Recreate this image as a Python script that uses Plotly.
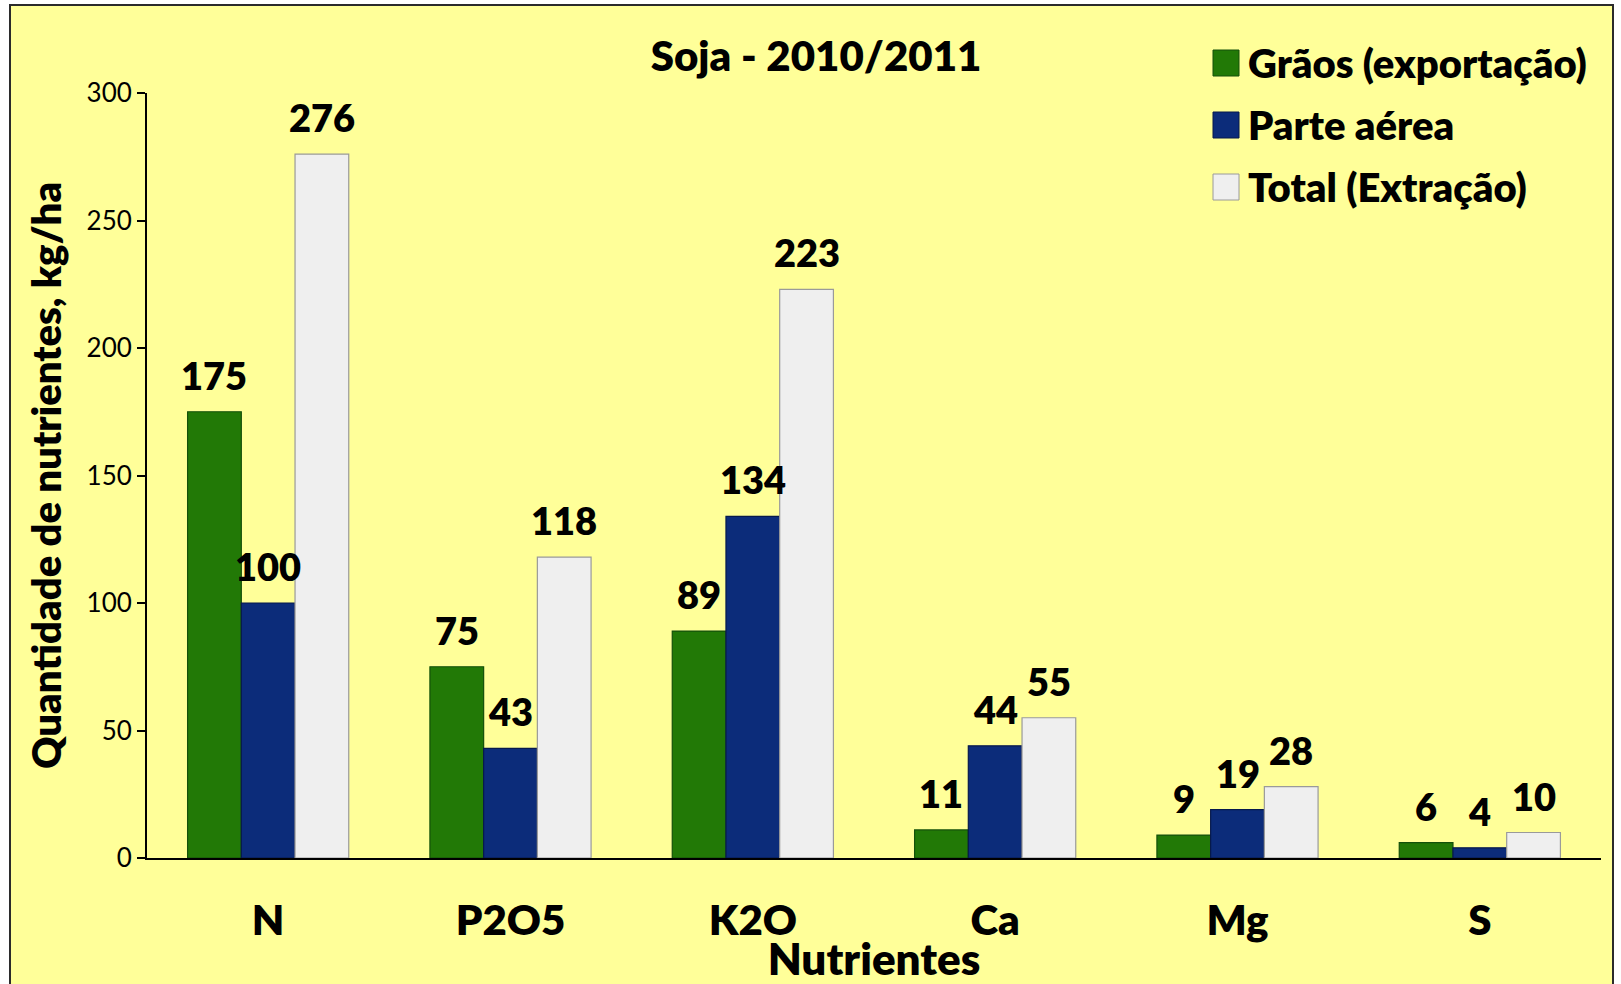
import plotly.graph_objects as go

# Nutrient extraction data for soybean, 2010/2011 season (kg/ha)
categories = ["N", "P2O5", "K2O", "Ca", "Mg", "S"]
graos = [175, 75, 89, 11, 9, 6]
parte_aerea = [100, 43, 134, 44, 19, 4]
total = [276, 118, 223, 55, 28, 10]

series_names = ["Grãos (exportação)", "Parte aérea", "Total (Extração)"]
series_values = [graos, parte_aerea, total]
series_colors = ["#227906", "#0C2C7A", "#EFEFEF"]
series_lines = ["#14500A", "#07194D", "#9A9A9A"]

y_ticks = [0, 50, 100, 150, 200, 250, 300]

W, H = 1621, 984
M_L, M_R, M_T, M_B = 147, 20, 93, 126
BARGAP = 0.335
FONT = "Lato"
HEAVY = 800

fig = go.Figure()
for name, vals, col, lc in zip(series_names, series_values, series_colors, series_lines):
    fig.add_trace(go.Bar(
        x=categories, y=vals, name=name,
        marker=dict(color=col, line=dict(color=lc, width=1.2)),
        showlegend=False,
    ))

# value labels above each bar
n_series = len(series_values)
bar_w = (1 - BARGAP) / n_series
annotations = []
for k, vals in enumerate(series_values):
    for i, v in enumerate(vals):
        annotations.append(dict(
            x=i + (k - (n_series - 1) / 2) * bar_w, y=v, xref="x", yref="y",
            text=str(v), showarrow=False, yanchor="bottom", yshift=12,
            font=dict(family=FONT, size=38, color="black", weight=HEAVY),
        ))

# legend drawn as swatches + labels in the upper-right corner
plot_w = W - M_L - M_R
plot_h = H - M_T - M_B
def px_x(px):
    return (px - M_L) / plot_w
def px_y(py):
    return (H - M_B - py) / plot_h

shapes = [dict(
    type="rect", xref="paper", yref="paper", layer="below",
    x0=px_x(10), x1=px_x(1613), y0=px_y(1000), y1=px_y(5),
    fillcolor="#FFFF99", line=dict(color="#2B2B2B", width=2),
)]

leg_rows_y = [63, 125, 187]
for name, col, lc, ry in zip(series_names, series_colors, series_lines, leg_rows_y):
    shapes.append(dict(
        type="rect", xref="paper", yref="paper",
        x0=px_x(1213), x1=px_x(1239), y0=px_y(ry + 13), y1=px_y(ry - 13),
        fillcolor=col, line=dict(color=lc, width=1),
    ))
    annotations.append(dict(
        x=px_x(1246), y=px_y(ry), xref="paper", yref="paper",
        text=name, showarrow=False, xanchor="left", yanchor="middle",
        font=dict(family=FONT, size=40, color="black", weight=HEAVY),
    ))

fig.update_layout(
    width=W, height=H,
    margin=dict(l=M_L, r=M_R, t=M_T, b=M_B, autoexpand=False),
    paper_bgcolor="white", plot_bgcolor="rgba(0,0,0,0)",
    barmode="group", bargap=BARGAP, bargroupgap=0,
    title=dict(
        text="Soja - 2010/2011", x=816 / W, xanchor="center",
        y=1 - 56 / H, yanchor="middle",
        font=dict(family=FONT, size=42, color="black", weight=HEAVY),
    ),
    font=dict(family=FONT, color="black"),
    xaxis=dict(
        showline=True, linecolor="black", linewidth=2, ticks="",
        tickfont=dict(family=FONT, size=42, color="black", weight=HEAVY),
        ticklabelstandoff=25,
        tickvals=categories, ticktext=categories,
        title=dict(text="Nutrientes", standoff=2,
                   font=dict(family=FONT, size=44, color="black", weight=HEAVY)),
        showgrid=False, zeroline=False,
    ),
    yaxis=dict(
        range=[0, 300], tickvals=y_ticks, showline=True, linecolor="black", linewidth=2,
        ticks="outside", ticklen=8, tickwidth=2, tickcolor="black",
        tickfont=dict(family=FONT, size=26, color="black"),
        showgrid=False, zeroline=False,
        title=dict(text="Quantidade de nutrientes, kg/ha", standoff=13,
                   font=dict(family=FONT, size=40, color="black", weight=HEAVY)),
    ),
    shapes=shapes,
    annotations=annotations,
)

fig.write_html("out.html")
